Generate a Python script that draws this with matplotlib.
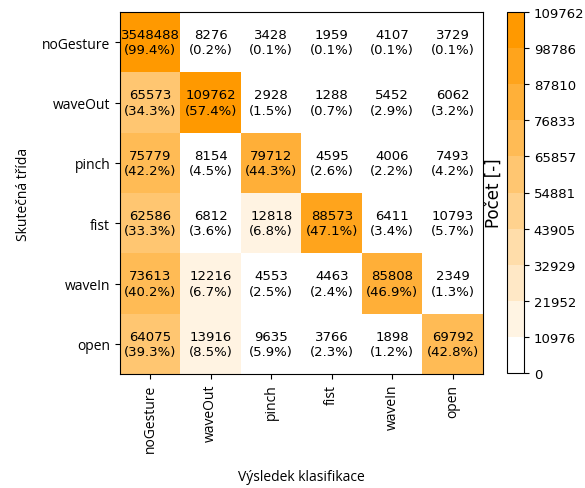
import numpy as np
import matplotlib
matplotlib.use("Agg")
import matplotlib.pyplot as plt
from matplotlib.colors import LinearSegmentedColormap, Normalize

classes = ["noGesture", "waveOut", "pinch", "fist", "waveIn", "open"]
row_noGesture = [3548488, 8276, 3428, 1959, 4107, 3729]
row_waveOut = [65573, 109762, 2928, 1288, 5452, 6062]
row_pinch = [75779, 8154, 79712, 4595, 4006, 7493]
row_fist = [62586, 6812, 12818, 88573, 6411, 10793]
row_waveIn = [73613, 12216, 4553, 4463, 85808, 2349]
row_open = [64075, 13916, 9635, 3766, 1898, 69792]

cm = np.array([row_noGesture, row_waveOut, row_pinch, row_fist, row_waveIn, row_open])
vmax = 109762
pct = cm / cm.sum(axis=1, keepdims=True) * 100

cmap = LinearSegmentedColormap.from_list("wo", ["#ffffff", "#ff9900"], N=10)
norm = Normalize(vmin=0, vmax=vmax)

fig = plt.figure(figsize=(5.85, 4.89), dpi=100)
ax = fig.add_axes([120/585, 1-375/489, 363/585, 362/489])
cax = fig.add_axes([507/585, 1-374/489, 17/585, 361/489])

im = ax.imshow(cm, cmap=cmap, norm=norm, aspect="auto", interpolation="nearest")
for i in range(cm.shape[0]):
    for j in range(cm.shape[1]):
        ax.text(j, i, f"{cm[i, j]}\n({pct[i, j]:.1f}%)", ha="center", va="center",
                fontsize=9.5, color="black", family="DejaVu Sans", linespacing=1.25)

lab_font = "Open Sans"
ax.set_xticks(range(len(classes)))
ax.set_yticks(range(len(classes)))
ax.set_xticklabels(classes, rotation=90, fontsize=10, family=lab_font)
ax.set_yticklabels(classes, fontsize=10, family=lab_font)
ax.set_xlabel("Výsledek klasifikace", fontsize=10, family=lab_font, labelpad=12)
ax.set_ylabel("Skutečná třída", fontsize=10, family=lab_font, labelpad=8)

cb = fig.colorbar(im, cax=cax)
ticks = np.linspace(0, vmax, 11)
cb.set_ticks(ticks)
cb.set_ticklabels([f"{t:.0f}" for t in ticks])
cb.ax.tick_params(labelsize=9.5)
cb.ax.yaxis.set_label_position("left")
cb.set_label("Počet [-]", fontsize=12, labelpad=3)

fig.savefig("out.png", dpi=100)
